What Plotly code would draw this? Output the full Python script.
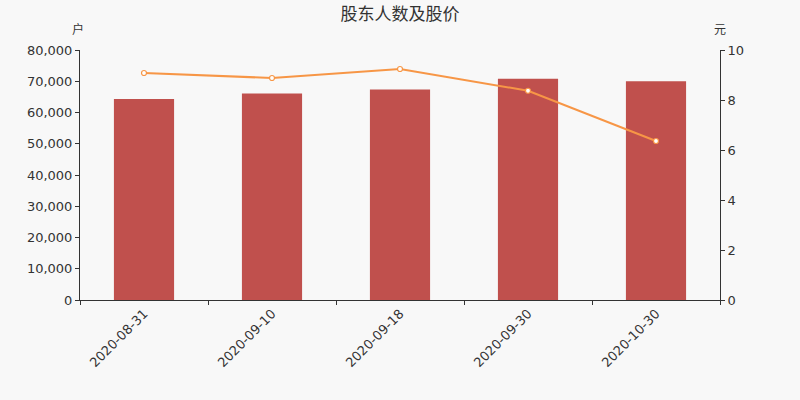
import plotly.graph_objs as go

dates = ["2020-08-31", "2020-09-10", "2020-09-18", "2020-09-30", "2020-10-30"]
holders = [64300, 66100, 67400, 70800, 70000]   # 户
price = [9.08, 8.88, 9.24, 8.37, 6.36]           # 元

CJK = "Noto Sans CJK SC"
TICK_FONT = "DejaVu Sans"
BAR_COLOR = "#c0504d"
LINE_COLOR = "#f79646"

fig = go.Figure()
fig.add_trace(go.Bar(x=dates, y=holders, marker=dict(color=BAR_COLOR, line=dict(width=0)),
                     width=0.47, name="股东人数"))
fig.add_trace(go.Scatter(x=dates, y=price, yaxis="y2", mode="lines+markers", name="股价",
                         line=dict(color=LINE_COLOR, width=2),
                         marker=dict(size=5, color="white", line=dict(color=LINE_COLOR, width=1.2))))

axis_common = dict(showgrid=False, zeroline=False, showline=True, linecolor="#333",
                   linewidth=1, ticks="outside", ticklen=4, tickcolor="#333",
                   automargin=False,
                   tickfont=dict(family=TICK_FONT, size=13, color="#333"))

fig.update_layout(
    width=800, height=400,
    paper_bgcolor="#f8f8f8", plot_bgcolor="#f8f8f8",
    font=dict(family=CJK, color="#333"),
    margin=dict(l=80, r=80, t=50, b=100),
    showlegend=False,
    title=dict(text="股东人数及股价", x=0.5, xanchor="center", y=0.965, yanchor="middle",
               font=dict(family=CJK, size=17, color="#333")),
    xaxis=dict(type="category", range=[-0.5, 4.5], tickangle=-45,
               tickson="boundaries", **axis_common),
    yaxis=dict(range=[0, 80000], dtick=10000, tickformat=",.0f", **axis_common),
    yaxis2=dict(range=[0, 10], dtick=2, overlaying="y", side="right", **axis_common),
    annotations=[
        dict(text="户", xref="paper", yref="paper", x=0, y=1, xshift=-2, yshift=22,
             showarrow=False, font=dict(family=CJK, size=12, color="#333"),
             xanchor="center", yanchor="middle"),
        dict(text="元", xref="paper", yref="paper", x=1, y=1, xshift=0, yshift=22,
             showarrow=False, font=dict(family=CJK, size=12, color="#333"),
             xanchor="center", yanchor="middle"),
    ],
)

# drop the default 8px page margin so the chart fills the window
fig.write_html("out.html", config={"displayModeBar": False},
               post_script="document.body.style.margin='0';")
